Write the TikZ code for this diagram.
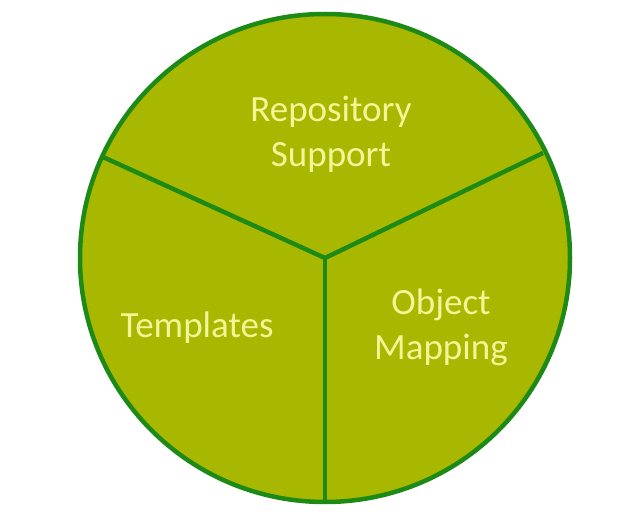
\documentclass[tikz,border=0pt]{standalone}
\usepackage{fontspec}
\setmainfont{Carlito}
\definecolor{piefill}{RGB}{168,184,0}
\definecolor{pieline}{RGB}{30,138,22}
\definecolor{pietext}{RGB}{242,246,150}

\begin{document}
\begin{tikzpicture}[x=1pt, y=-1pt, font=\fontsize{37}{45}\selectfont]
  \tikzset{spoke/.style={draw=pieline, line width=4.5pt},
           label/.style={text=pietext, align=center, inner sep=0pt}}
  \useasboundingbox (0,0) rectangle (622,524);
  \coordinate (C) at (325,258);
  \coordinate (L) at (103,157);
  \coordinate (R) at (543,153);
  \coordinate (B) at (325,502);
  \draw[spoke, fill=piefill] (C) ellipse [x radius=245, y radius=244];
  \draw[spoke] (L) -- (C) -- (R);
  \draw[spoke] (C) -- (B);
  \node[label] (repo) at (331,134) {Repository\\Support};
  \node[label] (tmpl) at (197,328) {Templates};
  \node[label] (obj) at (441,327) {Object\\Mapping};
\end{tikzpicture}
\end{document}
